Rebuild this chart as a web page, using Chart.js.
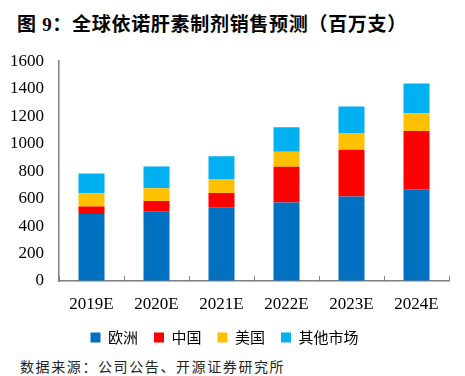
<!DOCTYPE html>
<html>
<head>
<meta charset="utf-8">
<script src="https://cdn.jsdelivr.net/npm/chart.js@4"></script>
<style>
  html, body { margin: 0; padding: 0; background: #fff; }
  body { width: 465px; height: 376px; position: relative; overflow: hidden; }
  #titulo {
    position: absolute; left: 17px; top: 9px;
    font: bold 19px "Liberation Serif", "Noto Sans CJK SC", serif;
    letter-spacing: 0.7px; color: #000; white-space: nowrap;
  }
  #fonte {
    position: absolute; left: 20px; top: 357px;
    font: 14px "Noto Sans CJK SC", sans-serif;
    letter-spacing: 1.6px; color: #222; white-space: nowrap; line-height: 18px;
  }
  #fonte span { border-bottom: 1px solid #35a9c9; }
  #box { position: absolute; left: 0; top: 36px; width: 465px; height: 319px; }
</style>
</head>
<body>
<div id="titulo">图 9：全球依诺肝素制剂销售预测（百万支）</div>
<div id="box"><canvas id="grafico"></canvas></div>
<div id="fonte">数据来源：公司公告、<span>开源证券</span>研究所</div>
<script>
// ===== DADOS =====
const anos = ["2019E", "2020E", "2021E", "2022E", "2023E", "2024E"];
const europa = [487, 507, 533, 572, 616, 667];
const china = [56, 75, 107, 259, 339, 424];
const eua = [95, 94, 102, 109, 119, 131];
const outros = [145, 158, 167, 180, 196, 216];

const serif = "'Liberation Serif', 'Times New Roman', serif";
const cjk = "'Noto Sans CJK SC', sans-serif";

// ===== GRÁFICO =====
const ctx = document.getElementById("grafico").getContext("2d");
new Chart(ctx, {
  type: "bar",
  data: {
    labels: anos,
    datasets: [
      { label: "欧洲", data: europa, backgroundColor: "#0070C0" },
      { label: "中国", data: china, backgroundColor: "#FF0000" },
      { label: "美国", data: eua, backgroundColor: "#FFC000" },
      { label: "其他市场", data: outros, backgroundColor: "#00B0F0" }
    ]
  },
  options: {
    responsive: true,
    maintainAspectRatio: false,
    animation: false,
    devicePixelRatio: 1,
    layout: { padding: { top: 4, right: 16, left: 0, bottom: 0 } },
    datasets: { bar: { barPercentage: 0.4, categoryPercentage: 1.0, borderWidth: 0 } },
    plugins: {
      tooltip: { enabled: false },
      legend: {
        position: "bottom",
        labels: {
          boxWidth: 10, boxHeight: 10, padding: 16,
          color: "#000",
          font: { family: cjk, size: 15 }
        }
      }
    },
    scales: {
      x: {
        stacked: true,
        grid: { offset: true, drawOnChartArea: false, drawTicks: true, tickLength: -5, color: "#7f7f7f", lineWidth: 1 },
        border: { display: true, color: "#7f7f7f", width: 1.5 },
        ticks: { color: "#000", padding: 18, font: { family: serif, size: 17 } },
        afterFit: (s) => { s.height = 33; }
      },
      y: {
        stacked: true,
        min: 0, max: 1600,
        grid: { drawOnChartArea: false, drawTicks: false },
        border: { display: true, color: "#7f7f7f", width: 1.5 },
        ticks: { stepSize: 200, color: "#000", padding: 15, font: { family: serif, size: 17 },
          callback: (v) => String(v) },
        afterFit: (s) => { s.width = 59; }
      }
    }
  }
});
</script>
</body>
</html>
